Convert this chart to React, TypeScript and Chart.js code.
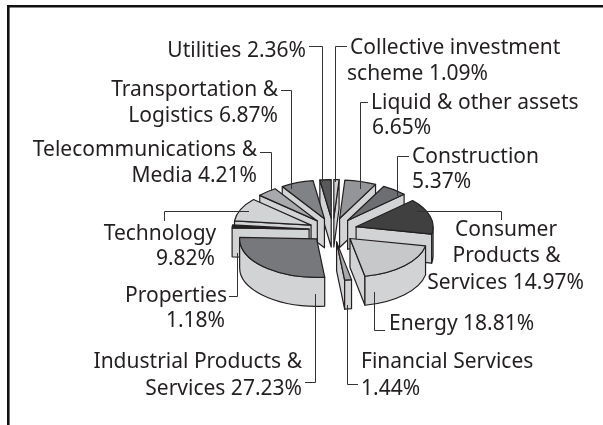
import React, { useEffect, useRef } from "react";
import { Chart, registerables } from "chart.js";

Chart.register(...registerables);

const categories = [
  "Collective investment scheme",
  "Liquid & other assets",
  "Construction",
  "Consumer Products & Services",
  "Energy",
  "Financial Services",
  "Industrial Products & Services",
  "Properties",
  "Technology",
  "Telecommunications & Media",
  "Transportation & Logistics",
  "Utilities",
];
const shares = [1.09, 6.65, 5.37, 14.97, 18.81, 1.44, 27.23, 1.18, 9.82, 4.21, 6.87, 2.36];
const sliceColors = [
  "#d1d3d4", "#939598", "#6d6e71", "#404041", "#c7c8ca", "#a7a9ac",
  "#77787b", "#231f20", "#d1d3d4", "#a7a9ac", "#808285", "#58595b",
];

const INK = "#231f20";
const WALL = "#d1d3d4";
const SQUASH = 0.5;
const DEPTH = 29;
const EXPLODE = 24;
const FONT = '21px "Noto Sans"';

type Txt = [string, number, number, CanvasTextAlign];
const texts: Txt[] = [
  ["Utilities 2.36%", 306, 51, "right"],
  ["Collective investment", 350, 48, "left"],
  ["scheme 1.09%", 347, 74, "left"],
  ["Liquid & other assets", 371, 103, "left"],
  ["6.65%", 372, 128, "left"],
  ["Construction", 412, 157, "left"],
  ["5.37%", 412, 182, "left"],
  ["Consumer", 506, 230, "center"],
  ["Products &", 506.5, 256, "center"],
  ["Services 14.97%", 505.5, 283, "center"],
  ["Energy 18.81%", 389, 324, "left"],
  ["Financial Services", 361, 362, "left"],
  ["1.44%", 361, 389, "left"],
  ["Industrial Products &", 302, 362, "right"],
  ["Services 27.23%", 302, 389, "right"],
  ["Properties", 227, 296, "right"],
  ["1.18%", 225, 321, "right"],
  ["Technology", 160, 234, "center"],
  ["9.82%", 215, 259, "right"],
  ["Telecommunications &", 257, 150, "right"],
  ["Media 4.21%", 257, 176, "right"],
  ["Transportation &", 278, 90, "right"],
  ["Logistics 6.87%", 278, 116, "right"],
];
const leaders: number[][] = [
  [309, 46.5, 322.5, 46.5, 322.5, 182],
  [347, 46.5, 335.5, 46.5, 335.5, 182],
  [368, 102.5, 360.5, 102.5, 360.5, 189],
  [409, 156.5, 397.5, 156.5, 397.5, 196],
  [417, 211.5, 501.5, 211.5, 501.5, 220],
  [374.5, 292, 374.5, 330.5, 385, 330.5],
  [347.5, 305, 347.5, 384.5, 358, 384.5],
  [315.5, 294, 315.5, 382.5, 305, 382.5],
  [237.5, 253, 237.5, 296.5, 229, 296.5],
  [249, 211.5, 164.5, 211.5, 164.5, 221],
  [260, 152.5, 271.5, 152.5, 271.5, 191],
  [281, 90.5, 291.5, 90.5, 291.5, 189],
];

const pie3d = {
  id: "pie3d",
  beforeDraw(chart: any) {
    const c = chart.ctx;
    c.save();
    c.fillStyle = "#ffffff";
    c.fillRect(0, 0, chart.width, chart.height);
    c.strokeStyle = "#111111";
    c.lineWidth = 2.6;
    c.beginPath();
    c.moveTo(8.3, 425);
    c.lineTo(8.3, 6.3);
    c.lineTo(603, 6.3);
    c.stroke();
    c.restore();
  },
  beforeDatasetDraw(chart: any) {
    const c = chart.ctx;
    const arcs = chart.getDatasetMeta(0).data;
    const midOf = (a: any) => (a.startAngle + a.endAngle) / 2;
    const order = arcs.slice().sort((p: any, q: any) => Math.sin(midOf(p)) - Math.sin(midOf(q)));
    for (const arc of order) {
      const { x, y, startAngle: a, endAngle: b, outerRadius: r } = arc;
      const mid = midOf(arc);
      const dx = Math.cos(mid) * EXPLODE;
      const dy = Math.sin(mid) * EXPLODE;
      const ox = x + dx;
      const oy = y + dy * SQUASH;
      const ry = r * SQUASH;
      const px = (t: number) => ox + Math.cos(t) * r;
      const py = (t: number) => oy + Math.sin(t) * ry;
      c.save();
      c.fillStyle = WALL;
      c.strokeStyle = INK;
      c.lineWidth = 1.2;
      c.lineJoin = "round";
      const wall = (t: number) => {
        c.beginPath();
        c.moveTo(ox, oy);
        c.lineTo(px(t), py(t));
        c.lineTo(px(t), py(t) + DEPTH);
        c.lineTo(ox, oy + DEPTH);
        c.closePath();
        c.fill();
        c.stroke();
      };
      if (Math.cos(a) < 0) wall(a);
      if (Math.cos(b) > 0) wall(b);
      const s = Math.max(a, 0);
      const e = Math.min(b, Math.PI);
      if (s < e) {
        c.beginPath();
        c.ellipse(ox, oy, r, ry, 0, s, e);
        c.ellipse(ox, oy + DEPTH, r, ry, 0, e, s, true);
        c.closePath();
        c.fill();
        c.stroke();
      }
      c.restore();

      c.save();
      c.translate(ox, oy);
      c.scale(1, SQUASH);
      c.translate(-x, -y);
      arc.draw(c);
      c.restore();

      c.save();
      c.strokeStyle = INK;
      c.lineWidth = 1.2;
      c.lineJoin = "round";
      c.beginPath();
      c.moveTo(ox, oy);
      c.ellipse(ox, oy, r, ry, 0, a, b);
      c.closePath();
      c.stroke();
      c.restore();
    }
    return false;
  },
  afterDatasetsDraw(chart: any) {
    const c = chart.ctx;
    c.save();
    c.strokeStyle = "#333333";
    c.lineWidth = 1;
    for (const l of leaders) {
      c.beginPath();
      c.moveTo(l[0], l[1]);
      for (let i = 2; i < l.length; i += 2) c.lineTo(l[i], l[i + 1]);
      c.stroke();
    }
    c.fillStyle = INK;
    c.font = FONT;
    c.textBaseline = "middle";
    for (const [s, x, y, al] of texts) {
      c.textAlign = al;
      c.fillText(s, x, y);
    }
    c.restore();
  },
};

export default function App() {
  const ref = useRef<HTMLCanvasElement>(null);
  useEffect(() => {
    const chart = new Chart(ref.current as HTMLCanvasElement, {
      type: "pie",
      data: {
        labels: categories,
        datasets: [
          {
            data: shares,
            backgroundColor: sliceColors,
            borderWidth: 0,
          } as any,
        ],
      },
      options: {
        responsive: false,
        animation: false,
        rotation: 0,
        radius: 77,
        layout: { padding: { left: 63, top: 35 } },
        plugins: { legend: { display: false }, tooltip: { enabled: false } },
      } as any,
      plugins: [pie3d],
    });
    return () => chart.destroy();
  }, []);
  return (
    <div style={{ position: "absolute", left: 0, top: 0, width: 603, height: 425 }}>
      <canvas ref={ref} width={603} height={425} style={{ display: "block" }} />
    </div>
  );
}
